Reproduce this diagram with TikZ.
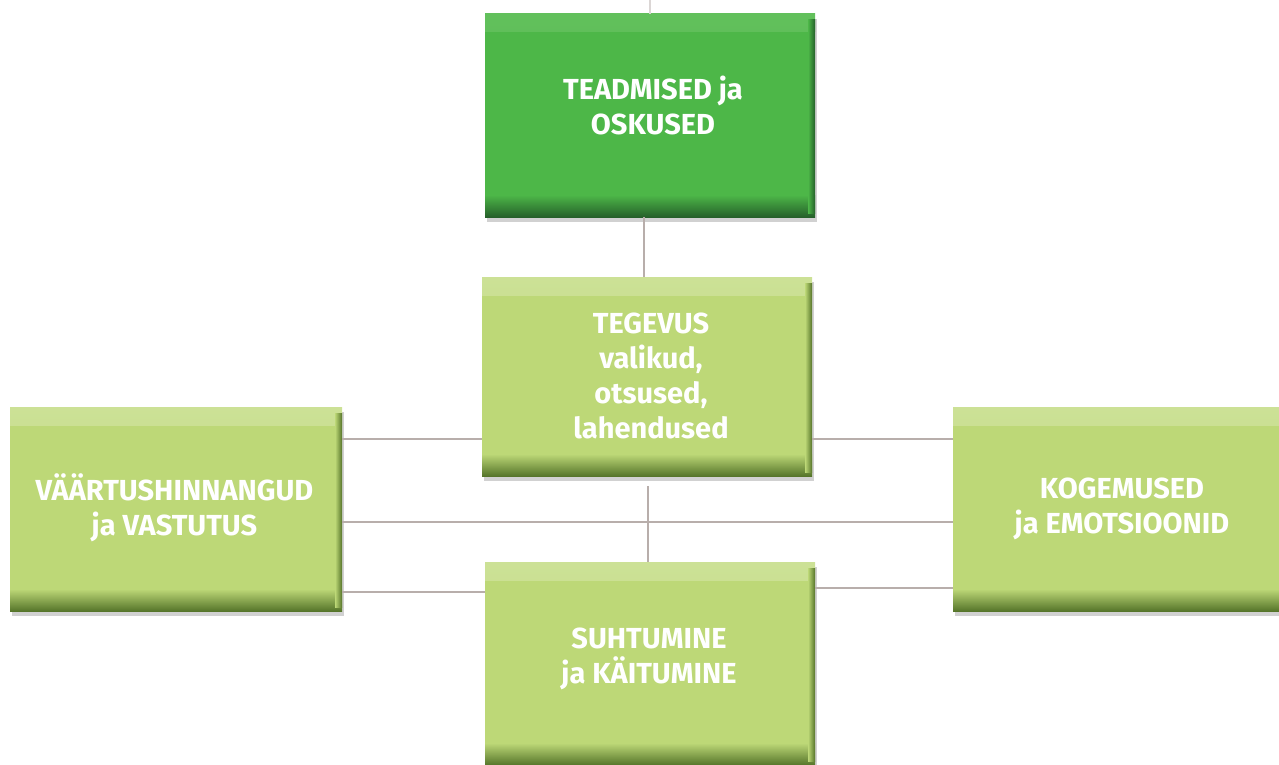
\documentclass[tikz,border=0pt]{standalone}
\usepackage{fontspec}
\setmainfont{Fira Sans}
\usetikzlibrary{shadows}
\definecolor{lg}{HTML}{BDD877}
\definecolor{lgtop}{HTML}{CCE196}
\definecolor{lgdark}{HTML}{56752A}
\definecolor{dg}{HTML}{4DB748}
\definecolor{dgtop}{HTML}{62C05C}
\definecolor{dgdark}{HTML}{25602A}
\definecolor{conn}{HTML}{B8AEAB}
\newcommand\mybevel[3]{%
  \fill[top color=#2, bottom color=#1]
    (path picture bounding box.north west) rectangle ([yshift=-18pt]path picture bounding box.north east);
  \fill[top color=#1, bottom color=#3]
    ([yshift=22pt]path picture bounding box.south west) rectangle (path picture bounding box.south east);
  \fill[left color=#1, right color=#3]
    ([xshift=-7pt,yshift=-6pt]path picture bounding box.north east) rectangle ([yshift=4pt]path picture bounding box.south east);
}
\tikzset{
  boxbase/.style={rectangle, inner sep=0pt, draw=none,
    drop shadow={shadow xshift=2pt, shadow yshift=-5pt, opacity=0.18, fill=black}},
  lightbox/.style={boxbase, fill=lg, path picture={\mybevel{lg}{lgtop}{lgdark}}},
  darkbox/.style={boxbase, fill=dg, path picture={\mybevel{dg}{dgtop}{dgdark}}},
  label/.style={text=white, align=center, inner sep=0pt,
    font=\bfseries\fontsize{29}{35}\selectfont},
  conn/.style={draw=conn, line width=1.6pt},
}
\begin{document}
\begin{tikzpicture}[x=1pt,y=-1pt]
\useasboundingbox (0,0) rectangle (1279,765);
% row coordinates
\coordinate (r1) at (0,439);
\coordinate (r2) at (0,522);
\coordinate (r3) at (0,592);
\coordinate (r4) at (0,588);
\coordinate (c1) at (644,0);
\coordinate (c2) at (648,0);
\coordinate (c0) at (650,0);
% boxes
\node[darkbox, minimum width=330pt, minimum height=203pt] (top) at (650,115.5) {};
\node[lightbox, minimum width=330pt, minimum height=199pt] (mid) at (647,376.5) {};
\node[lightbox, minimum width=332pt, minimum height=204pt] (left) at (176,509) {};
\node[lightbox, minimum width=338pt, minimum height=204pt] (right) at (1122,509) {};
\node[lightbox, minimum width=330pt, minimum height=203pt] (bot) at (650,663.5) {};
% connectors
\draw[conn] (top.south -| c1) -- (mid.north -| c1);
\draw[conn, draw=conn!50] (top.north -| c0) -- (c0);
\draw[conn] (left.east |- r1) -- (mid.west |- r1);
\draw[conn] (mid.east |- r1) -- (right.west |- r1);
\draw[conn] (left.east |- r2) -- (right.west |- r2);
\draw[conn] ([yshift=-10pt]mid.south -| c2) -- (bot.north -| c2);
\draw[conn] (left.east |- r3) -- (bot.west |- r3);
\draw[conn] (bot.east |- r4) -- (right.west |- r4);
% texts
\node[label] (ttop) at (653,105) {TEADMISED ja\\OSKUSED};
\node[label] (tmid) at (651,375.5) {TEGEVUS\\valikud,\\otsused,\\lahendused};
\node[label] (tleft) at (174.5,508) {VÄÄRTUSHINNANGUD\\ja VASTUTUS};
\node[label] (tright) at (1122,508.5) {KOGEMUSED\\ja EMOTSIOONID};
\node[label] (tbot) at (649,658.5) {SUHTUMINE\\ja KÄITUMINE};
\end{tikzpicture}
\end{document}
